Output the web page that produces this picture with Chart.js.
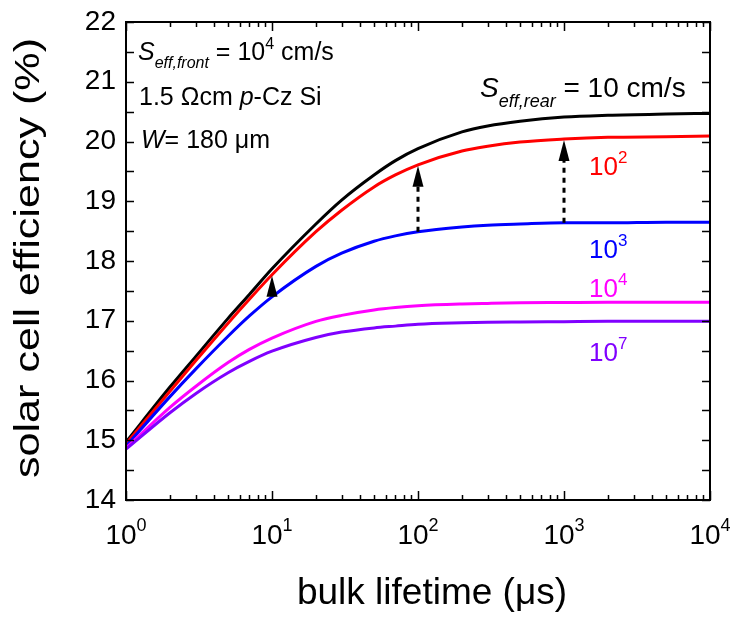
<!DOCTYPE html>
<html>
<head>
<meta charset="utf-8">
<script src="https://cdn.jsdelivr.net/npm/chart.js@4/dist/chart.umd.min.js"></script>
<style>
  body { margin: 0; background: #fff; }
</style>
</head>
<body>
<canvas id="chart" width="731" height="619"></canvas>
<script>
// bulk lifetime (µs) sample points
const lifetime = [1, 2, 3, 5, 7, 10, 20, 30, 50, 70, 100, 200, 300, 500, 1000, 2000, 5000, 10000];

// solar cell efficiency (%) for each S_eff,rear
const rear1e1 = [14.97, 15.89, 16.40, 17.04, 17.44, 17.87, 18.62, 19.02, 19.44, 19.68, 19.88, 20.16, 20.26, 20.34, 20.41, 20.44, 20.46, 20.47];
const rear1e2 = [14.94, 15.82, 16.33, 16.96, 17.36, 17.77, 18.49, 18.85, 19.24, 19.44, 19.61, 19.84, 19.92, 19.99, 20.04, 20.07, 20.08, 20.09];
const rear1e3 = [14.90, 15.73, 16.19, 16.74, 17.08, 17.40, 17.91, 18.13, 18.33, 18.42, 18.49, 18.57, 18.60, 18.62, 18.64, 18.64, 18.65, 18.65];
const rear1e4 = [14.87, 15.55, 15.90, 16.30, 16.52, 16.71, 16.99, 17.09, 17.18, 17.22, 17.25, 17.28, 17.29, 17.30, 17.305, 17.31, 17.31, 17.31];
const rear1e7 = [14.85, 15.46, 15.78, 16.13, 16.32, 16.49, 16.72, 16.81, 16.88, 16.91, 16.94, 16.965, 16.975, 16.98, 16.985, 16.99, 16.99, 16.99];

const yTicks = [14, 15, 16, 17, 18, 19, 20, 21, 22];
const xTicks = [1, 10, 100, 1000, 10000];
const xTickExp = ['0', '1', '2', '3', '4'];
const arrowAt = [10, 100, 1000];

const FONT = "'Liberation Sans', Arial, sans-serif";

function line(label, vals, color, order) {
  return {
    label: label,
    data: lifetime.map((x, i) => ({ x: x, y: vals[i] })),
    borderColor: color,
    borderWidth: 3,
    pointRadius: 0,
    fill: false,
    cubicInterpolationMode: 'monotone',
    order: order
  };
}

// draw a run of text pieces (size, italic, vertical shift)
function rich(ctx, parts, x, y, color, align) {
  let w = 0;
  parts.forEach(p => {
    ctx.font = (p.it ? 'italic ' : '') + p.s + 'px ' + FONT;
    p.w = ctx.measureText(p.t).width;
    w += p.w;
  });
  let cx = align === 'center' ? x - w / 2 : x;
  ctx.fillStyle = color;
  ctx.textBaseline = 'alphabetic';
  ctx.textAlign = 'left';
  parts.forEach(p => {
    ctx.font = (p.it ? 'italic ' : '') + p.s + 'px ' + FONT;
    ctx.fillText(p.t, cx, y + (p.dy || 0));
    cx += p.w;
  });
}

const decor = {
  id: 'decor',
  afterDatasetsDraw(chart) {
    const ctx = chart.ctx;
    const xs = chart.scales.x, ys = chart.scales.y;
    const a = chart.chartArea;
    ctx.save();

    // arrows between 10^3 and 10^2 curves
    arrowAt.forEach(v => {
      const i = lifetime.indexOf(v);
      const px = xs.getPixelForValue(v);
      const yb = ys.getPixelForValue(rear1e3[i]);
      const yt = ys.getPixelForValue(rear1e2[i]) + 1;
      const head = 21;
      ctx.strokeStyle = '#000';
      ctx.lineWidth = 3;
      ctx.setLineDash([5, 5]);
      if (yb - yt > head) {
        ctx.beginPath();
        ctx.moveTo(px, yb);
        ctx.lineTo(px, yt + head);
        ctx.stroke();
      }
      ctx.setLineDash([]);
      ctx.fillStyle = '#000';
      ctx.beginPath();
      ctx.moveTo(px, yt);
      ctx.lineTo(px + 5.5, yt + head);
      ctx.lineTo(px - 5.5, yt + head);
      ctx.closePath();
      ctx.fill();
    });

    // frame
    ctx.strokeStyle = '#000';
    ctx.lineWidth = 2;
    ctx.strokeRect(a.left, a.top, a.right - a.left, a.bottom - a.top);

    // inward ticks
    ctx.lineWidth = 1.5;
    ctx.beginPath();
    for (let v = 14; v <= 22; v += 0.5) {
      const py = Math.round(ys.getPixelForValue(v)) + 0.5;
      ctx.moveTo(a.left, py); ctx.lineTo(a.left + 8, py);
      ctx.moveTo(a.right, py); ctx.lineTo(a.right - 8, py);
    }
    for (let d = 1; d < 10000; d *= 10) {
      for (let m = 1; m <= 10; m++) {
        const px = Math.round(xs.getPixelForValue(d * m)) + 0.5;
        const len = (m === 1 || m === 10) ? 9 : 5;
        ctx.moveTo(px, a.bottom); ctx.lineTo(px, a.bottom - len);
        ctx.moveTo(px, a.top); ctx.lineTo(px, a.top + len);
      }
    }
    ctx.stroke();

    // y tick labels
    ctx.fillStyle = '#000';
    ctx.font = '28px ' + FONT;
    ctx.textAlign = 'right';
    ctx.textBaseline = 'middle';
    yTicks.forEach(v => ctx.fillText(String(v), a.left - 10, ys.getPixelForValue(v)));

    // x tick labels 10^n
    xTicks.forEach((v, k) => {
      rich(ctx, [{ t: '10', s: 28 }, { t: xTickExp[k], s: 18, dy: -13 }],
        xs.getPixelForValue(v), 544, '#000', 'center');
    });

    // axis titles
    ctx.font = '37px ' + FONT;
    ctx.textAlign = 'center';
    ctx.textBaseline = 'alphabetic';
    ctx.fillText('bulk lifetime (\u03bcs)', 432, 604);

    ctx.save();
    ctx.translate(39, 258);
    ctx.rotate(-Math.PI / 2);
    ctx.font = '35px ' + FONT;
    const yt = 'solar cell efficiency (%)';
    const sx = 440 / ctx.measureText(yt).width;
    ctx.scale(sx, 1);
    ctx.fillText(yt, 0, 0);
    ctx.restore();

    // annotations
    rich(ctx, [{ t: 'S', s: 25, it: true }, { t: 'eff,front', s: 16, it: true, dy: 8 },
      { t: ' = 10', s: 25 }, { t: '4', s: 16, dy: -11 }, { t: ' cm/s', s: 25 }], 138, 60, '#000');
    rich(ctx, [{ t: '1.5 \u03a9cm ', s: 25 }, { t: 'p', s: 25, it: true }, { t: '-Cz Si', s: 25 }], 139, 105, '#000');
    rich(ctx, [{ t: 'W', s: 25, it: true }, { t: '= 180 \u03bcm', s: 25 }], 141, 148, '#000');

    rich(ctx, [{ t: 'S', s: 28, it: true }, { t: 'eff,rear', s: 18, it: true, dy: 10 },
      { t: ' = 10 cm/s', s: 28 }], 480, 97, '#000');

    const tags = [['2', '#ff0000', 175], ['3', '#0000ff', 258], ['4', '#ff00ff', 297], ['7', '#8000ff', 361]];
    tags.forEach(t => rich(ctx, [{ t: '10', s: 26 }, { t: t[0], s: 17, dy: -12 }], 589, t[2], t[1]));

    ctx.restore();
  }
};

new Chart(document.getElementById('chart').getContext('2d'), {
  type: 'line',
  data: {
    datasets: [
      line('10', rear1e1, '#000000', 5),
      line('10^2', rear1e2, '#ff0000', 4),
      line('10^3', rear1e3, '#0000ff', 3),
      line('10^4', rear1e4, '#ff00ff', 2),
      line('10^7', rear1e7, '#8000ff', 1)
    ]
  },
  options: {
    responsive: false,
    devicePixelRatio: 1,
    animation: false,
    layout: { padding: { left: 0, right: 21, top: 22, bottom: 0 } },
    plugins: { legend: { display: false }, tooltip: { enabled: false }, title: { display: false } },
    scales: {
      x: {
        type: 'logarithmic', min: 1, max: 10000,
        ticks: { display: false }, grid: { display: false }, border: { display: false },
        afterFit: s => { s.height = 119; }
      },
      y: {
        type: 'linear', min: 14, max: 22,
        ticks: { display: false }, grid: { display: false }, border: { display: false },
        afterFit: s => { s.width = 126; }
      }
    }
  },
  plugins: [decor]
});
</script>
</body>
</html>
